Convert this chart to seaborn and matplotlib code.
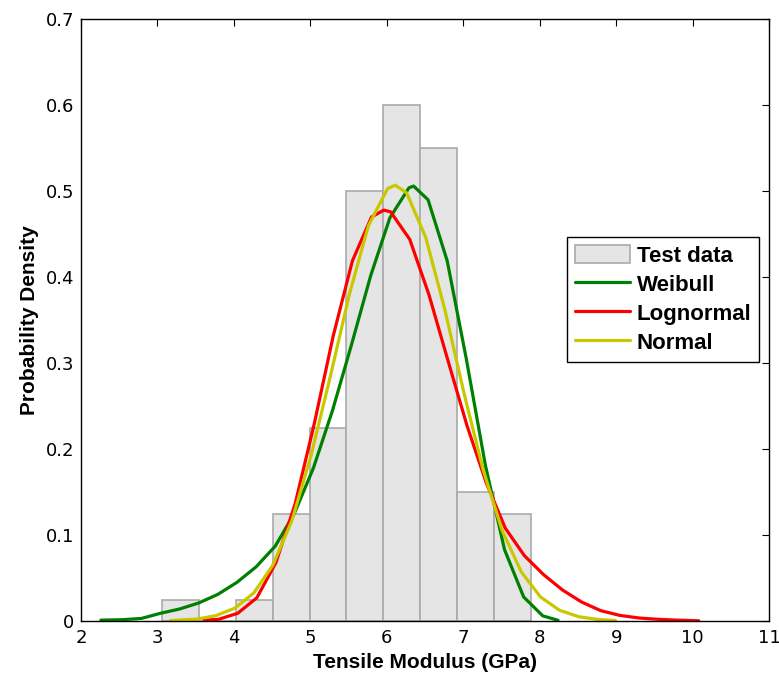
import numpy as np
import matplotlib
matplotlib.use('Agg')
import matplotlib.pyplot as plt
import seaborn as sns

# histogram of test data (bin edges + density heights)
bin_edges = [3.06, 3.5425, 4.025, 4.5075, 4.99, 5.4725, 5.955, 6.4375, 6.92, 7.4025, 7.885]
bin_heights = [0.025, 0.0, 0.025, 0.125, 0.225, 0.5, 0.6, 0.55, 0.15, 0.125]

# fitted pdf curves
weibull_x = [2.26, 2.54, 2.79, 3.04, 3.29, 3.54, 3.79, 4.04, 4.29, 4.54, 4.79, 5.04, 5.29,
             5.54, 5.79, 6.04, 6.29, 6.35, 6.54, 6.79, 7.04, 7.29, 7.54, 7.79, 8.04, 8.24]
weibull_y = [0.001, 0.0015, 0.003, 0.009, 0.014, 0.021, 0.031, 0.045, 0.063, 0.087, 0.125,
             0.178, 0.245, 0.322, 0.402, 0.469, 0.504, 0.506, 0.49, 0.419, 0.305, 0.181,
             0.083, 0.028, 0.006, 0.0008]

lognormal_x = [3.61, 3.8, 4.05, 4.3, 4.55, 4.8, 5.05, 5.3, 5.55, 5.8, 5.96, 6.05, 6.3, 6.55,
               6.8, 7.05, 7.3, 7.55, 7.8, 8.05, 8.3, 8.55, 8.8, 9.05, 9.3, 9.55, 9.8, 10.08]
lognormal_y = [0.001, 0.002, 0.009, 0.027, 0.068, 0.136, 0.229, 0.332, 0.419, 0.47, 0.478,
               0.476, 0.444, 0.38, 0.303, 0.227, 0.161, 0.108, 0.076, 0.054, 0.036, 0.022,
               0.012, 0.0065, 0.0035, 0.002, 0.001, 0.0003]

normal_x = [3.17, 3.51, 3.76, 4.01, 4.26, 4.51, 4.76, 5.01, 5.26, 5.51, 5.76, 6.01, 6.11, 6.26,
            6.51, 6.76, 7.01, 7.26, 7.51, 7.76, 8.01, 8.26, 8.51, 8.76, 8.99]
normal_y = [0.0006, 0.0022, 0.0061, 0.0149, 0.0326, 0.065, 0.117, 0.193, 0.284, 0.38, 0.46,
            0.503, 0.507, 0.498, 0.446, 0.362, 0.265, 0.176, 0.105, 0.057, 0.028, 0.0125,
            0.005, 0.0018, 0.0006]

x_ticks = [2, 3, 4, 5, 6, 7, 8, 9, 10, 11]
y_ticks = [0, 0.1, 0.2, 0.3, 0.4, 0.5, 0.6, 0.7]
y_ticklabels = ['0', '0.1', '0.2', '0.3', '0.4', '0.5', '0.6', '0.7']

sns.set_style('white')
plt.rcParams['font.family'] = ['Liberation Sans', 'DejaVu Sans']
plt.rcParams['text.color'] = 'black'
plt.rcParams['axes.labelcolor'] = 'black'

fig = plt.figure(figsize=(7.79, 6.77), dpi=100)
ax = fig.add_axes([0.104, 0.0827, 0.8832, 0.8888])

centers = [(bin_edges[i] + bin_edges[i + 1]) / 2 for i in range(len(bin_heights))]
sns.histplot(x=centers, weights=bin_heights, bins=bin_edges, stat='count',
             color='#e5e5e5', edgecolor='#aaaaaa', linewidth=1.2, alpha=1,
             label='Test data', ax=ax)

sns.lineplot(x=weibull_x, y=weibull_y, color='#008000', linewidth=2.3, label='Weibull', ax=ax)
sns.lineplot(x=lognormal_x, y=lognormal_y, color='#ff0000', linewidth=2.3, label='Lognormal', ax=ax)
sns.lineplot(x=normal_x, y=normal_y, color='#c8c800', linewidth=2.3, label='Normal', ax=ax)

ax.set_xlim(2, 11)
ax.set_ylim(0, 0.7)
ax.set_xticks(x_ticks)
ax.set_yticks(y_ticks)
ax.set_yticklabels(y_ticklabels)
ax.tick_params(direction='in', top=True, right=True, length=5, width=0.8, colors='black')
ax.tick_params(axis='x', pad=6)
ax.tick_params(axis='y', pad=5)
for lab in ax.get_xticklabels() + ax.get_yticklabels():
    lab.set_fontfamily('DejaVu Sans')
    lab.set_fontsize(13)
for s in ax.spines.values():
    s.set_color('black')
    s.set_linewidth(1.0)

ax.set_xlabel('Tensile Modulus (GPa)', fontsize=15, fontweight='bold', labelpad=4)
ax.set_ylabel('Probability Density', fontsize=15, fontweight='bold', labelpad=5)

# legend order as in the original: Test data first
handles, labels = ax.get_legend_handles_labels()
order = [labels.index(n) for n in ['Test data', 'Weibull', 'Lognormal', 'Normal']]
leg = ax.legend([handles[i] for i in order], [labels[i] for i in order],
                loc='upper left', bbox_to_anchor=(0.706, 0.638), borderaxespad=0,
                fancybox=False, framealpha=1, edgecolor='black',
                prop={'weight': 'bold', 'size': 16}, handlelength=2.5, handleheight=0.9,
                handletextpad=0.3, borderpad=0.35, labelspacing=0.32)
leg.get_frame().set_linewidth(1.0)

plt.savefig('out.png', dpi=100)
